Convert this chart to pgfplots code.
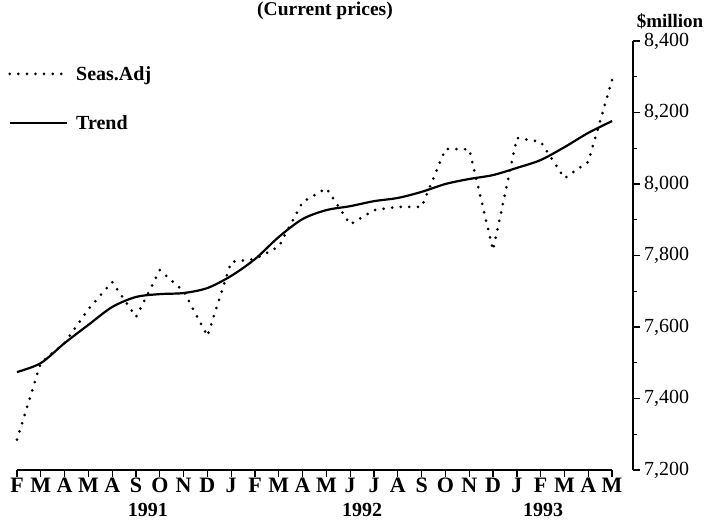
\documentclass[border=0pt]{standalone}
\usepackage{fontspec}
\setmainfont{Liberation Serif}
\usepackage{pgfplots}
\pgfplotsset{compat=1.18}
\usepackage{pgfplotstable}
\pgfplotstableread{
i seas trend
0 7285 7474
1 7500 7499
2 7555 7555
3 7650 7606
4 7726 7656
5 7628 7684
6 7759 7692
7 7700 7695
8 7575 7709
9 7782 7743
10 7790 7790
11 7825 7852
12 7950 7902
13 7988 7927
14 7887 7938
15 7927 7952
16 7936 7961
17 7936 7978
18 8098 8000
19 8097 8014
20 7815 8025
21 8129 8045
22 8118 8067
23 8016 8103
24 8062 8143
25 8291 8176
}\datatable
\newcommand{\fs}{\fontsize{20bp}{22bp}\selectfont}
\newcommand{\fm}{\fontsize{22bp}{24bp}\selectfont}
\begin{document}
\begin{tikzpicture}
\begin{axis}[
  scale only axis, width=616bp, height=429bp,
  xmin=0, xmax=25.88, ymin=7200, ymax=8400,
  axis x line*=bottom, axis y line*=right,
  axis line style={draw=none},
  tick align=outside,
  major tick length=7bp, minor tick length=4bp,
  every tick/.style={black, line width=1.3bp},
  xtick={0,...,25},
  xticklabels={F,M,A,M,A,S,O,N,D,J,F,M,A,M,J,J,A,S,O,N,D,J,F,M,A,M},
  xticklabel style={font=\fm\bfseries, inner sep=1bp},
  ytick={7200,7400,...,8400},
  minor ytick={7300,7500,...,8300},
  yticklabel style={font=\fs, inner sep=4bp},
  /pgf/number format/.cd, 1000 sep={,}, assume math mode=true,
  /pgfplots/.cd,
  legend style={draw=none, fill=none, at={(axis description cs:0,1)}, anchor=north west,
    xshift=-9bp, yshift=-23bp, font=\fs\bfseries, row sep=30bp, inner sep=0pt,
    cells={anchor=west}},
  legend image code/.code={\draw[#1] (0bp,0bp) -- (57bp,0bp); \path (63bp,0bp);},
  clip=false,
]
\addplot[black, line width=3bp, line cap=round, dash pattern=on 0bp off 8.6bp] table[x=i,y=seas] {\datatable};
\addlegendentry{Seas.Adj}
\addplot[black, line width=2.2bp, smooth] table[x=i,y=trend] {\datatable};
\addlegendentry{Trend}
\draw[line width=1.5bp] (axis cs:0,7200) -- (axis cs:25,7200);
\draw[line width=1.5bp] (rel axis cs:1,0) -- (rel axis cs:1,1);
\node[font=\fs\bfseries] at (axis cs:5.5,7200) [yshift=-40bp] {1991};
\node[font=\fs\bfseries] at (axis cs:14.5,7200) [yshift=-40bp] {1992};
\node[font=\fs\bfseries] at (axis cs:22.1,7200) [yshift=-40bp] {1993};
\node[font=\fontsize{19.5bp}{21bp}\selectfont\bfseries, inner sep=0pt] at (rel axis cs:0.5,1) [yshift=30bp] {(Current prices)};
\node[font=\fontsize{19bp}{21bp}\selectfont\bfseries, inner sep=0pt] at (rel axis cs:1,1) [xshift=37bp, yshift=20bp] {\$million};
\coordinate (ll) at (rel axis cs:0,0);
\coordinate (ur) at (rel axis cs:1,1);
\end{axis}
\pgfresetboundingbox
\path[use as bounding box] ([shift={(-17bp,-54bp)}]ll) rectangle ([shift={(71bp,41bp)}]ur);
\end{tikzpicture}
\end{document}
